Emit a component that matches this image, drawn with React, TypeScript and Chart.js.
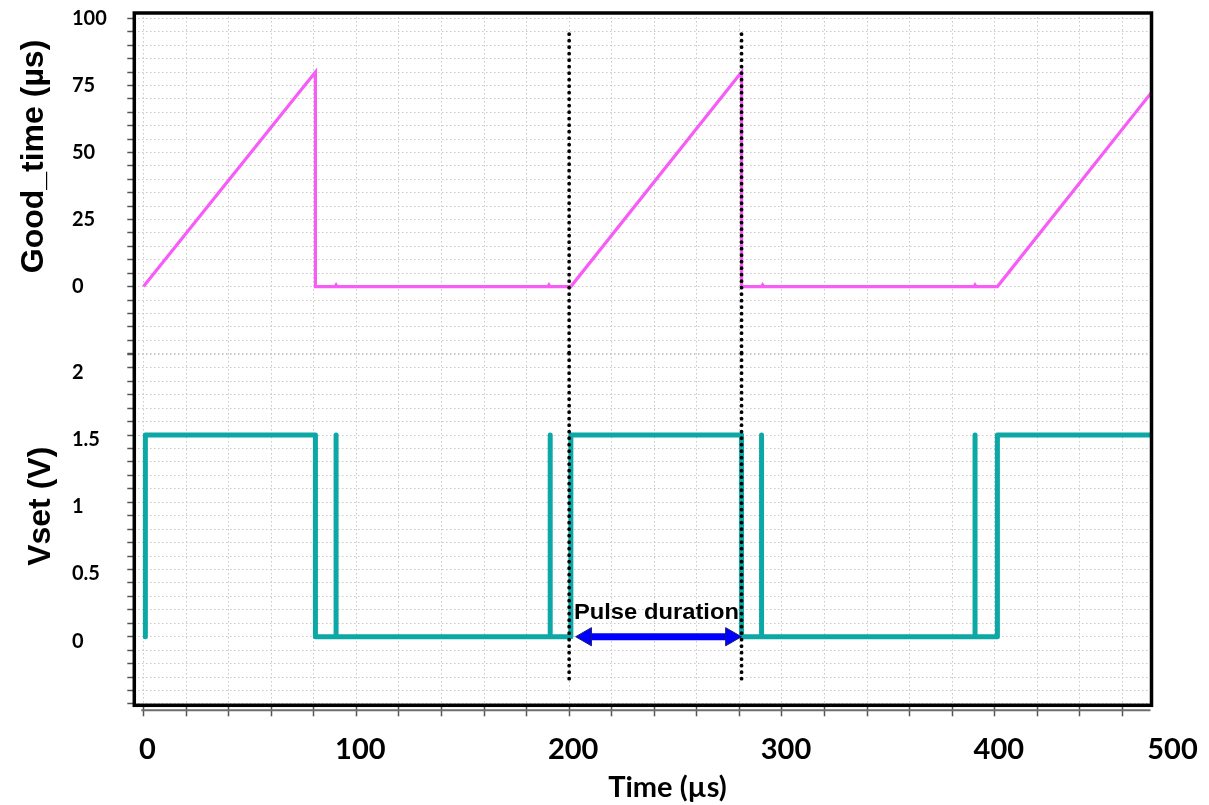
import { useEffect, useRef } from 'react';
import { Chart, registerables } from 'chart.js';

Chart.register(...registerables);

// ---- Data ----
const goodTimeT = [0, 80.8, 80.8, 90, 90.5, 91, 190, 190.5, 191, 200.8, 281, 281, 290.4, 290.9, 291.4, 390.2, 390.7, 391.2, 401.2, 473.6];
const goodTimeV = [0, 80, 0, 0, 0.6, 0, 0, 0.6, 0, 0, 80, 0, 0, 0.6, 0, 0, 0.6, 0, 0, 72.4];

const vsetT = [0.9, 0.9, 80.8, 80.8, 90.5, 90.5, 90.5, 191.1, 191.1, 191.1, 200.8, 200.8, 281, 281, 290.4, 290.4, 290.4, 390.7, 390.7, 390.7, 401.2, 401.2, 473.6];
const vsetV = [0, 1.5, 1.5, 0, 0, 1.5, 0, 0, 1.5, 0, 0, 1.5, 1.5, 0, 0, 1.5, 0, 0, 1.5, 0, 0, 1.5, 1.5];

// dotted markers (µs) and their vertical extent in each panel's units
const markerTimes = [200, 281];
const markerTopExtent = [94.1, -25];
const markerBottomExtent = [2.105, -0.33];

// "Pulse duration" double arrow (centres of the arrow heads)
const arrowT = [208, 276];
const arrowV = [0, 0];
const arrowLabel = 'Pulse duration';
const arrowLabelPos = { t: 241, v: 0.13 };

// tick labels
const timeTickLabels = [0, 100, 200, 300, 400, 500];
const goodTimeTickLabels = [0, 25, 50, 75, 100];
const vsetTickLabels = [0, 0.5, 1, 1.5, 2];

// titles
const xTitle = 'Time (µs)';
const yTopTitle = 'Good_time (µs)';
const yBottomTitle = 'Vset (V)';

// ---- Styles ----
const MAGENTA = '#F75CF7';
const TEAL = '#0BA8A5';
const GRID = '#c9c9c9';
const TICK_FONT = 'Lato';
const TITLE_FONT = '"Liberation Sans", Arial, sans-serif';
const X_TICK_SIZE = 29;
const X_TICK_LEN = 11;
const X_TICK_PAD = 16;

const zip = (t: number[], v: number[]) => t.map((x, i) => ({ x, y: v[i] }));
const markerPoints = (ext: number[]) => {
  const pts: { x: number; y: number | null }[] = [];
  markerTimes.forEach((t, i) => {
    if (i > 0) pts.push({ x: (markerTimes[i - 1] + t) / 2, y: null });
    pts.push({ x: t, y: ext[0] }, { x: t, y: ext[1] });
  });
  return pts;
};
const hasLabel = (arr: number[], v: number) => arr.some((l) => Math.abs(l - v) < 1e-6);

const overlayPlugin = {
  id: 'overlay',
  afterDraw(chart: any) {
    const { ctx, chartArea: a, scales } = chart;
    const x = scales.x;
    const yT = scales.yTop;
    const yB = scales.yBottom;
    ctx.save();

    // x axis line just below the frame
    ctx.strokeStyle = '#6e6e6e';
    ctx.lineWidth = 2;
    ctx.beginPath();
    ctx.moveTo(x.getPixelForValue(-1), a.bottom + 5);
    ctx.lineTo(a.right - 1, a.bottom + 5);
    ctx.stroke();

    // frame
    ctx.strokeStyle = '#000';
    ctx.lineWidth = 3.5;
    ctx.strokeRect(a.left, a.top, a.right - a.left, a.bottom - a.top);

    // extra tick label beyond the axis maximum
    ctx.fillStyle = '#000';
    ctx.font = `bold ${X_TICK_SIZE}px ${TICK_FONT}`;
    ctx.textAlign = 'center';
    ctx.textBaseline = 'middle';
    const labelMidY = a.bottom + X_TICK_LEN + X_TICK_PAD + (X_TICK_SIZE * 1.2) / 2;
    timeTickLabels.filter((v) => v > x.max).forEach((v) => {
      ctx.fillText(String(v), a.right + 21, labelMidY);
    });

    // x title
    ctx.textBaseline = 'alphabetic';
    ctx.fillText(xTitle, 667.5, 797);

    // y titles
    ctx.font = `bold 32px ${TITLE_FONT}`;
    const topMid = (yT.getPixelForValue(goodTimeTickLabels[0]) + yT.getPixelForValue(goodTimeTickLabels[goodTimeTickLabels.length - 1])) / 2 + 4;
    const botMid = (yB.getPixelForValue(vsetTickLabels[0]) + yB.getPixelForValue(vsetTickLabels[vsetTickLabels.length - 1])) / 2 + 4;
    ctx.save();
    ctx.translate(43, topMid);
    ctx.rotate(-Math.PI / 2);
    ctx.fillText(yTopTitle, 0, 0);
    ctx.restore();
    ctx.save();
    ctx.translate(50, botMid);
    ctx.rotate(-Math.PI / 2);
    ctx.fillText(yBottomTitle, 0, 0);
    ctx.restore();

    // arrow label
    ctx.font = `bold 21px ${TITLE_FONT}`;
    const w = ctx.measureText(arrowLabel).width;
    const sx = 165 / w;
    ctx.save();
    ctx.translate(x.getPixelForValue(arrowLabelPos.t), yB.getPixelForValue(arrowLabelPos.v));
    ctx.scale(sx, 1.08);
    ctx.fillText(arrowLabel, 0, 0);
    ctx.restore();

    ctx.restore();
  },
};

export default function App() {
  const ref = useRef<HTMLCanvasElement>(null);

  useEffect(() => {
    const canvas = ref.current;
    if (!canvas) return;

    const yTickFont = { family: TICK_FONT, weight: 'bold' as const, size: 20 };

    const chart = new Chart(canvas, {
      type: 'line',
      data: {
        datasets: [
          {
            label: 'markersTop',
            data: markerPoints(markerTopExtent) as any,
            yAxisID: 'yTop',
            borderColor: '#000',
            borderWidth: 3.8,
            borderDash: [0, 6.5],
            borderCapStyle: 'round',
            pointRadius: 0,
            spanGaps: false,
            order: 0,
          },
          {
            label: 'markersBottom',
            data: markerPoints(markerBottomExtent) as any,
            yAxisID: 'yBottom',
            borderColor: '#000',
            borderWidth: 3.8,
            borderDash: [0, 6.5],
            borderCapStyle: 'round',
            pointRadius: 0,
            spanGaps: false,
            clip: false as any,
            order: 0,
          },
          {
            label: 'arrow',
            data: zip(arrowT, arrowV),
            yAxisID: 'yBottom',
            borderColor: '#0000FF',
            borderWidth: 7,
            pointStyle: 'triangle',
            pointRotation: [270, 90],
            pointRadius: 10.5,
            pointBackgroundColor: '#0000FF',
            pointBorderColor: '#1a1a70',
            pointBorderWidth: 1,
            order: 1,
          },
          {
            label: 'Vset',
            data: zip(vsetT, vsetV),
            yAxisID: 'yBottom',
            borderColor: TEAL,
            borderWidth: 5,
            borderJoinStyle: 'round',
            borderCapStyle: 'round',
            pointRadius: 0,
            tension: 0,
            order: 2,
          },
          {
            label: 'Good_time',
            data: zip(goodTimeT, goodTimeV),
            yAxisID: 'yTop',
            borderColor: MAGENTA,
            borderWidth: 3.2,
            pointRadius: 0,
            tension: 0,
            order: 3,
          },
        ],
      },
      options: {
        animation: false,
        responsive: false,
        devicePixelRatio: 1,
        layout: { padding: { left: 72, top: 13, right: 57.5, bottom: 39.7 } },
        plugins: { legend: { display: false }, tooltip: { enabled: false } },
        events: [],
        scales: {
          x: {
            type: 'linear',
            position: 'bottom',
            min: -4.3,
            max: 473.6,
            border: { display: false, dash: [1.5, 2.5] },
            grid: { color: GRID, lineWidth: 1, tickLength: X_TICK_LEN, tickColor: '#555', tickWidth: 1.5, tickBorderDash: [] },
            ticks: {
              stepSize: 20,
              includeBounds: false,
              autoSkip: false,
              maxRotation: 0,
              padding: X_TICK_PAD,
              labelOffset: 4,
              color: '#000',
              font: { family: TICK_FONT, weight: 'bold', size: X_TICK_SIZE },
              callback: (v: any) => (hasLabel(timeTickLabels, Number(v)) ? String(v) : ''),
            },
            afterFit: (s: any) => {
              s.height = 60;
              s.paddingLeft = 0;
              s.paddingRight = 0;
            },
          },
          yTop: {
            type: 'linear',
            position: 'left',
            stack: 'panels',
            stackWeight: 341,
            weight: 2,
            min: -25,
            max: 102,
            border: { display: false, dash: [1.5, 2.5] },
            grid: { color: GRID, lineWidth: 1, tickLength: 7, tickColor: '#555', tickWidth: 1.5, tickBorderDash: [] },
            ticks: {
              stepSize: 5,
              includeBounds: false,
              autoSkip: false,
              crossAlign: 'far',
              padding: 0,
              color: '#000',
              font: yTickFont,
              callback: (v: any) => (hasLabel(goodTimeTickLabels, Number(v)) ? String(v) : ''),
            },
            afterFit: (s: any) => {
              s.width = 62.3;
              s.paddingTop = 0;
              s.paddingBottom = 0;
            },
          },
          yBottom: {
            type: 'linear',
            position: 'left',
            stack: 'panels',
            stackWeight: 352,
            weight: 1,
            min: -0.51,
            max: 2.105,
            border: { display: false, dash: [1.5, 2.5] },
            grid: { color: GRID, lineWidth: 1, tickLength: 7, tickColor: '#555', tickWidth: 1.5, tickBorderDash: [] },
            ticks: {
              stepSize: 0.1,
              includeBounds: false,
              autoSkip: false,
              crossAlign: 'far',
              padding: 0,
              labelOffset: 4.5,
              color: '#000',
              font: yTickFont,
              callback: (v: any) => (hasLabel(vsetTickLabels, Number(v)) ? String(Number(v)) : ''),
            },
            afterFit: (s: any) => {
              s.width = 62.3;
              s.paddingTop = 0;
              s.paddingBottom = 0;
            },
          },
        },
      },
      plugins: [overlayPlugin],
    } as any);

    return () => chart.destroy();
  }, []);

  return (
    <div style={{ position: 'fixed', left: 0, top: 0, width: 1209, height: 805, background: '#fff' }}>
      <canvas ref={ref} width={1209} height={805} style={{ display: 'block', width: 1209, height: 805 }} />
    </div>
  );
}
